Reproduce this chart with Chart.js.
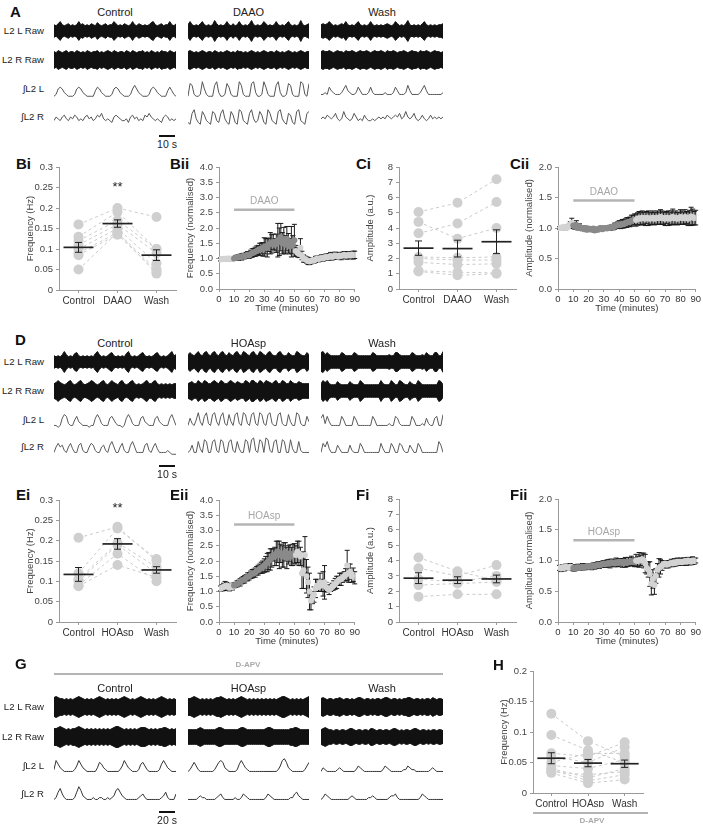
<!DOCTYPE html>
<html>
<head>
<meta charset="utf-8">
<script src="https://cdn.jsdelivr.net/npm/chart.js@4.4.1/dist/chart.umd.min.js"></script>
<style>
  body { margin: 0; background: #fff; }
  #fig { position: relative; width: 703px; height: 826px; overflow: hidden; background: #fff;
         font-family: "Liberation Sans", Arial, sans-serif; color: #222; }
  #fig canvas { position: absolute; }
  .t { position: absolute; white-space: nowrap; line-height: 1; }
  .p { font-weight: bold; font-size: 15px; color: #111; }
  .row { font-size: 9.6px; color: #222; }
  .col { font-size: 11px; color: #222; }
  .sb { font-size: 10.5px; color: #222; }
  .apv { font-size: 8px; font-weight: bold; color: #aaa; }
  .bar { position: absolute; }
</style>
</head>
<body>
<div id="fig"></div>
<script>
// ---- summary panels (each animal: [Control, drug, Wash]) ----
const catsDAAO = ["Control", "DAAO", "Wash"];
const catsHOAsp = ["Control", "HOAsp", "Wash"];

const biAnimals = [[0.16, 0.20, 0.178], [0.13, 0.19, 0.10], [0.11, 0.16, 0.09], [0.10, 0.15, 0.065],
                   [0.09, 0.14, 0.05], [0.085, 0.135, 0.045], [0.05, 0.14, 0.04], [0.12, 0.17, 0.10]];
const biMean = [0.104, 0.162, 0.085];
const biSem = [0.012, 0.009, 0.013];

const ciAnimals = [[5.05, 5.65, 7.2], [4.4, 3.3, 4.0], [3.65, 4.3, 5.7], [2.1, 2.05, 2.1],
                   [2.0, 1.9, 1.9], [1.75, 1.6, 1.65], [1.2, 1.1, 1.05], [1.15, 0.9, 1.0]];
const ciMean = [2.68, 2.65, 3.1];
const ciSem = [0.47, 0.55, 0.78];

const eiAnimals = [[0.207, 0.234, 0.15], [0.12, 0.23, 0.155], [0.105, 0.195, 0.135],
                   [0.10, 0.19, 0.12], [0.09, 0.168, 0.10], [0.088, 0.14, 0.11]];
const eiMean = [0.117, 0.192, 0.128];
const eiSem = [0.017, 0.013, 0.008];

const fiAnimals = [[4.2, 3.3, 2.7], [3.5, 3.0, 3.7], [2.8, 2.6, 3.0], [2.4, 2.5, 2.6], [1.65, 1.8, 1.8]];
const fiMean = [2.85, 2.72, 2.8];
const fiSem = [0.35, 0.22, 0.25];

const hAnimals = [[0.13, 0.085, 0.06], [0.095, 0.07, 0.05], [0.065, 0.06, 0.083], [0.06, 0.05, 0.075],
                  [0.05, 0.065, 0.065], [0.045, 0.04, 0.055], [0.04, 0.025, 0.04], [0.038, 0.02, 0.03],
                  [0.035, 0.03, 0.035], [0.033, 0.016, 0.022]];
const hMean = [0.057, 0.049, 0.048];
const hSem = [0.009, 0.006, 0.006];

// ---- time courses, one value per minute (1..90) ----
const biiMean = [0.97,0.98,0.99,0.98,1.0,0.99,1.0,0.98,1.0,1.0,
  1.02,1.04,1.03,1.06,1.05,1.08,1.07,1.1,1.12,1.1,
  1.15,1.18,1.2,1.22,1.25,1.28,1.3,1.33,1.3,1.38,
  1.4,1.35,1.45,1.5,1.48,1.55,1.45,1.5,1.6,1.55,
  1.7,1.5,1.6,1.45,1.65,1.5,1.4,1.55,1.45,1.6,
  1.25,1.2,1.15,1.35,1.1,1.0,0.98,0.95,0.92,0.9,
  0.92,0.95,0.93,0.97,1.0,0.98,1.0,1.02,1.0,1.03,
  1.05,1.03,1.06,1.08,1.05,1.07,1.1,1.08,1.06,1.1,
  1.08,1.1,1.12,1.09,1.1,1.12,1.1,1.13,1.11,1.12];
const biiErr = [0.05,0.04,0.05,0.06,0.05,0.04,0.05,0.06,0.05,0.06,
  0.08,0.07,0.09,0.08,0.1,0.09,0.08,0.1,0.11,0.1,
  0.12,0.14,0.13,0.15,0.16,0.15,0.2,0.18,0.22,0.3,
  0.25,0.3,0.22,0.35,0.3,0.25,0.2,0.3,0.55,0.45,
  0.45,0.35,0.42,0.3,0.4,0.32,0.25,0.5,0.3,0.52,
  0.18,0.15,0.12,0.3,0.14,0.12,0.1,0.1,0.12,0.1,
  0.1,0.08,0.09,0.1,0.08,0.09,0.08,0.1,0.09,0.08,
  0.1,0.09,0.1,0.12,0.1,0.09,0.11,0.1,0.09,0.1,
  0.12,0.1,0.11,0.1,0.12,0.1,0.11,0.1,0.13,0.12];

const ciiMean = [1.0,1.01,1.0,1.02,1.0,1.01,1.03,1.05,1.08,1.04,
  1.02,1.05,1.0,1.03,0.99,1.0,0.98,1.0,0.97,0.99,
  0.98,0.97,0.99,0.96,0.98,0.97,0.99,1.0,0.98,0.99,
  1.0,0.99,1.01,1.0,1.02,1.01,1.03,1.04,1.05,1.06,
  1.05,1.07,1.06,1.08,1.09,1.1,1.1,1.12,1.13,1.14,
  1.13,1.15,1.16,1.15,1.17,1.16,1.15,1.17,1.16,1.15,
  1.16,1.17,1.15,1.16,1.17,1.16,1.18,1.17,1.16,1.15,
  1.17,1.16,1.15,1.17,1.18,1.16,1.17,1.15,1.16,1.18,
  1.17,1.16,1.18,1.17,1.15,1.17,1.19,1.18,1.16,1.17];
const ciiErr = [0.02,0.02,0.03,0.02,0.03,0.02,0.03,0.05,0.08,0.05,
  0.04,0.07,0.03,0.04,0.03,0.03,0.02,0.03,0.03,0.02,
  0.03,0.02,0.03,0.03,0.02,0.03,0.02,0.03,0.02,0.03,
  0.03,0.02,0.03,0.04,0.03,0.04,0.05,0.04,0.05,0.06,
  0.06,0.07,0.06,0.07,0.08,0.07,0.08,0.09,0.08,0.09,
  0.1,0.1,0.11,0.1,0.11,0.1,0.11,0.1,0.12,0.1,
  0.1,0.11,0.1,0.1,0.11,0.1,0.12,0.11,0.1,0.11,
  0.1,0.12,0.1,0.11,0.13,0.1,0.11,0.1,0.1,0.12,
  0.11,0.1,0.12,0.1,0.11,0.12,0.15,0.13,0.11,0.12];

const eiiMean = [1.1,1.12,1.15,1.18,1.2,1.15,1.12,1.18,1.15,1.2,
  1.22,1.25,1.28,1.3,1.35,1.38,1.4,1.45,1.48,1.5,
  1.55,1.58,1.6,1.62,1.68,1.7,1.75,1.78,1.8,1.85,
  1.9,1.95,2.0,2.05,2.1,2.2,2.15,2.25,2.3,2.2,
  2.25,2.15,2.2,2.3,2.1,2.2,2.25,2.15,2.2,2.25,
  2.2,2.3,2.25,2.15,1.6,1.7,2.2,1.5,1.3,1.0,
  0.7,0.8,0.9,1.1,1.2,1.15,1.3,1.2,1.25,1.3,
  1.15,1.1,1.05,1.1,1.15,1.2,1.25,1.3,1.35,1.4,
  1.4,1.45,1.5,1.55,1.85,1.6,1.65,1.5,1.55,1.45];
const eiiErr = [0.08,0.1,0.12,0.15,0.1,0.08,0.1,0.09,0.1,0.08,
  0.08,0.1,0.09,0.12,0.1,0.11,0.12,0.1,0.13,0.12,
  0.12,0.14,0.13,0.15,0.14,0.16,0.15,0.18,0.2,0.22,
  0.25,0.3,0.28,0.35,0.3,0.2,0.3,0.4,0.35,0.45,
  0.3,0.35,0.4,0.3,0.35,0.3,0.28,0.3,0.35,0.32,
  0.3,0.35,0.4,0.3,0.5,0.6,0.6,0.55,0.5,0.6,
  0.3,0.2,0.25,0.3,0.2,0.15,0.3,0.2,0.4,0.55,
  0.15,0.12,0.15,0.1,0.12,0.15,0.18,0.2,0.15,0.2,
  0.2,0.15,0.15,0.2,0.5,0.3,0.25,0.2,0.22,0.2];

const fiiMean = [0.88,0.87,0.89,0.88,0.9,0.89,0.88,0.9,0.89,0.88,
  0.87,0.88,0.89,0.88,0.89,0.9,0.89,0.9,0.91,0.9,
  0.91,0.9,0.92,0.91,0.92,0.93,0.92,0.93,0.94,0.95,
  0.94,0.95,0.96,0.95,0.97,0.96,0.95,0.97,0.96,0.98,
  0.97,0.96,0.98,0.97,0.96,0.98,0.97,0.99,0.98,0.97,
  1.0,0.99,1.01,1.0,1.02,1.0,0.95,0.88,0.85,0.78,
  0.62,0.7,0.6,0.75,0.85,0.88,0.9,0.92,0.94,0.95,
  0.93,0.94,0.95,0.96,0.95,0.97,0.96,0.98,0.97,0.98,
  0.97,0.98,0.99,0.98,1.0,0.99,0.98,1.0,0.99,1.0];
const fiiErr = [0.04,0.05,0.04,0.05,0.04,0.05,0.04,0.05,0.04,0.05,
  0.04,0.04,0.05,0.04,0.04,0.05,0.04,0.05,0.04,0.04,
  0.04,0.05,0.04,0.05,0.04,0.05,0.05,0.04,0.05,0.05,
  0.05,0.06,0.05,0.07,0.05,0.06,0.05,0.07,0.06,0.05,
  0.06,0.07,0.05,0.08,0.06,0.07,0.05,0.08,0.06,0.07,
  0.1,0.08,0.12,0.09,0.1,0.12,0.15,0.1,0.12,0.2,
  0.18,0.15,0.15,0.12,0.1,0.15,0.12,0.08,0.06,0.05,
  0.05,0.06,0.05,0.06,0.05,0.06,0.05,0.06,0.05,0.06,
  0.05,0.06,0.05,0.06,0.05,0.06,0.05,0.06,0.05,0.04];

const tsMinutes = Array.from({ length: 90 }, (_, i) => i + 1);

// ---- recordings: raw envelope amplitude and integrated activity ----
const aCtrlRawL = [6,5,7,9,6,5,6,7,5,6,5,6,9,6,7,5,6,5,7,6,5,8,6,5,6,7,5,6,6,9,7,5,6,5,7,6,5,6,9,6,5,7,6,5,6,5,6,8,9,6,5,6,7,5,6,6,9,6,5,7];
const aCtrlRawR = [8,7,9,8,7,8,9,7,8,8,7,9,8,7,8,7,9,8,7,8,8,9,7,8,7,8,9,8,7,9,8,7,8,8,7,9,8,7,9,8,7,8,8,9,7,8,7,9,8,7,8,7,9,8,8,7,9,8,7,8];
const aDaaoRawL = [6,9,6,5,6,5,7,9,6,5,6,5,6,10,7,5,6,5,6,9,6,5,7,5,6,9,6,5,6,5,7,10,6,5,6,5,6,9,7,5,6,5,6,9,6,5,6,5,7,9,6,5,6,5,6,10,6,5,6,7];
const aDaaoRawR = [8,9,8,7,8,7,8,9,8,7,8,8,7,9,8,7,8,7,8,9,8,7,8,7,9,8,8,7,8,7,8,9,8,7,8,7,8,9,8,7,8,8,7,9,8,7,8,7,8,9,8,7,8,7,8,9,8,7,8,8];
const aWashRawL = [6,7,6,7,9,7,5,6,5,6,7,6,9,6,5,6,5,7,9,6,5,6,5,6,9,6,5,6,5,6,5,6,7,6,5,6,9,7,5,6,5,7,10,6,5,6,5,6,5,7,9,6,5,6,5,6,5,6,6,7];
const aWashRawR = [8,9,8,8,9,8,7,8,9,8,8,7,9,8,8,9,8,7,8,9,8,8,9,8,7,8,9,8,8,9,8,7,9,8,8,9,8,7,8,8,9,8,7,8,9,8,8,7,9,8,8,9,8,7,8,9,8,8,7,8];
const aCtrlIntL = [1,2,5,6,5,3,2,1,1,1,2,5,6,5,3,2,1,1,1,1,4,6,5,3,2,1,1,1,2,5,6,5,3,2,1,1,1,2,5,7,5,3,2,1,1,1,2,5,6,5,3,2,1,1,1,4,6,4,2,1];
const aCtrlIntR = [3,5,4,3,5,6,4,3,5,4,6,5,3,4,3,5,6,4,5,3,4,6,5,7,4,3,4,3,2,5,6,5,4,3,3,4,2,5,6,4,5,3,4,3,6,5,7,5,4,3,4,3,2,5,6,5,3,4,3,4];
const aDaaoIntL = [1,8,7,2,1,1,2,9,5,2,1,1,1,7,9,3,1,1,2,8,6,2,1,1,1,9,7,2,1,1,1,8,9,3,1,1,2,9,6,2,1,1,1,7,9,3,1,1,2,8,7,2,1,1,1,9,8,2,1,8];
const aDaaoIntR = [2,1,7,9,4,2,1,8,6,3,2,1,8,7,3,2,7,9,4,2,1,8,6,2,1,9,8,3,2,1,7,9,4,2,3,8,6,2,1,9,7,3,2,1,8,9,4,2,1,7,6,2,1,8,9,3,2,1,7,8];
const aWashIntL = [2,2,3,2,6,4,3,2,2,2,3,5,7,4,3,2,2,3,6,4,2,2,2,3,6,3,2,2,2,2,2,3,2,2,2,3,6,4,2,2,2,3,7,4,2,2,2,2,3,5,7,4,2,2,2,2,2,2,2,3];
const aWashIntR = [4,5,4,6,5,4,5,7,4,3,4,8,5,4,3,4,7,5,3,4,3,6,4,3,3,4,3,4,5,4,5,4,6,5,4,5,6,5,7,4,5,8,5,4,5,7,4,3,4,6,4,3,4,6,4,5,4,5,4,5];

const dCtrlRawL = [6,5,6,5,7,10,7,5,6,5,8,9,6,5,6,5,6,5,6,5,8,10,7,5,6,5,6,8,9,6,5,6,5,6,5,8,10,6,5,6,5,6,8,9,6,5,6,5,6,8,9,6,5,6,5,6,8,10,6,7];
const dCtrlRawR = [7,8,10,8,7,6,7,9,10,7,6,7,9,10,7,6,7,8,10,9,7,6,7,9,10,7,6,8,10,8,7,6,9,10,7,6,7,9,10,7,6,7,6,7,9,10,7,7,9,10,7,6,7,6,7,6,7,6,7,7];
const dHoaRawL = [7,9,7,6,8,10,7,6,9,10,7,6,9,10,7,6,9,10,7,6,9,7,6,9,10,7,6,10,9,7,6,9,10,7,6,10,9,7,6,9,10,7,6,6,9,10,7,6,6,9,7,6,6,10,9,7,6,6,9,7];
const dHoaRawR = [7,8,9,7,7,10,8,7,10,9,7,7,9,10,8,7,10,9,7,7,9,10,8,7,9,8,7,7,10,9,7,10,10,8,7,10,9,7,10,9,8,7,9,10,7,7,10,9,7,7,10,8,7,7,9,8,7,7,7,7];
const dWashRawL = [9,10,7,9,7,6,6,6,6,6,9,8,6,6,6,6,9,8,6,6,6,6,6,6,6,9,8,6,6,6,6,6,6,7,6,6,9,9,7,6,6,6,6,6,9,8,6,6,6,7,6,9,7,6,6,9,9,6,6,10];
const dWashRawR = [7,10,8,10,7,6,6,6,9,7,6,6,6,6,9,7,6,6,6,10,8,6,6,6,6,6,6,6,6,10,7,6,6,6,10,8,6,6,10,9,7,6,6,9,7,6,6,10,8,6,6,6,6,6,6,6,6,10,9,6];
const dCtrlIntL = [2,2,1,2,6,8,7,3,2,2,5,7,4,3,2,2,2,1,2,2,6,8,6,3,2,2,2,6,7,5,3,2,2,1,2,6,8,6,3,2,2,2,6,7,4,3,2,2,2,6,7,4,3,2,2,2,6,8,5,2];
const dCtrlIntR = [2,5,7,5,6,3,2,5,7,4,2,2,6,7,3,2,2,5,7,6,3,2,2,5,6,3,2,6,8,5,2,2,5,7,3,2,2,6,8,5,2,2,2,2,6,7,3,2,5,7,4,2,2,2,2,3,2,1,1,1];
const dHoaIntL = [2,6,3,2,5,9,4,2,7,9,3,2,8,9,4,2,7,9,3,2,8,4,2,8,9,3,2,9,8,3,2,8,9,3,2,9,8,3,2,8,9,3,2,2,8,9,3,2,2,8,4,2,2,9,8,3,2,2,7,4];
const dHoaIntR = [2,3,6,2,2,8,4,2,9,8,2,2,8,9,3,2,9,8,2,2,8,9,3,2,8,4,2,2,9,8,2,9,10,3,2,9,8,2,10,9,3,2,8,9,2,2,9,8,2,2,9,4,2,2,8,3,2,2,2,2];
const dWashIntL = [6,8,3,7,4,2,2,2,2,2,7,5,2,2,2,2,7,5,2,2,2,2,2,2,2,7,5,2,2,2,2,2,2,3,2,2,7,6,3,2,2,2,2,2,7,5,2,2,2,3,2,6,3,2,2,6,7,2,2,8];
const dWashIntR = [2,7,5,8,4,2,2,2,6,4,2,2,2,2,6,3,2,2,2,7,5,2,2,2,2,2,2,2,2,7,4,2,2,2,7,5,2,2,7,6,3,2,2,6,4,2,2,7,5,2,2,2,2,2,2,2,2,8,6,2];

const gCtrlRawL = [9,10,9,8,8,7,8,7,8,7,8,9,10,9,8,7,8,7,8,7,8,9,10,9,8,7,8,7,8,7,8,7,8,9,10,9,8,7,8,7,8,9,10,9,8,7,8,7,8,7,8,9,10,9,8,7,8,7,8,7];
const gCtrlRawR = [8,8,9,10,9,8,7,8,7,8,8,9,10,9,8,7,8,7,8,7,8,7,8,7,8,7,8,7,8,9,10,10,9,8,7,8,7,8,7,8,7,8,9,9,9,8,7,8,7,8,7,8,8,9,9,8,7,8,7,8];
const gHoaRawL = [8,8,9,10,9,8,7,8,7,8,7,8,7,8,9,9,10,9,8,7,8,7,8,7,8,9,10,9,8,7,8,7,8,7,8,7,8,7,8,7,8,7,8,7,8,9,10,10,9,8,7,8,7,8,7,8,7,8,9,10];
const gHoaRawR = [7,7,7,7,7,8,9,8,7,7,7,7,7,7,8,9,9,8,7,7,7,7,7,7,7,8,9,9,8,7,7,7,7,7,7,7,7,7,8,9,9,8,7,7,7,7,7,7,7,7,8,8,9,9,8,7,7,7,7,7];
const gWashRawL = [8,9,8,7,8,8,7,8,8,9,8,7,8,8,7,8,7,8,9,9,8,7,8,8,7,8,7,8,8,7,8,9,9,8,7,8,8,7,8,7,8,8,9,9,8,7,8,8,7,8,7,8,8,7,9,8,7,8,8,7];
const gWashRawR = [7,8,9,8,7,7,6,7,7,6,7,7,6,7,8,8,7,6,7,7,6,7,7,6,8,8,7,6,7,7,6,7,7,6,7,8,8,7,6,7,6,7,7,6,7,8,8,7,6,7,7,6,7,6,7,7,6,7,7,6];
const gCtrlIntL = [3,8,6,4,3,2,2,2,2,2,3,5,8,6,4,3,2,2,2,2,2,4,7,6,4,3,2,2,2,2,2,2,3,5,8,6,4,3,2,2,2,3,6,7,5,3,2,2,2,2,2,3,6,8,6,4,3,2,2,2];
const gCtrlIntR = [2,3,6,8,5,3,2,2,2,2,3,6,9,7,4,3,2,2,2,3,2,2,3,3,2,2,3,2,3,4,7,8,6,4,3,2,2,2,2,2,2,3,4,5,3,2,2,2,2,2,2,2,3,4,6,3,2,2,2,5];
const gHoaIntL = [2,3,5,7,5,3,2,2,2,2,2,2,2,3,5,7,8,7,4,3,2,2,2,2,3,6,8,6,4,3,2,2,2,2,2,2,2,2,2,2,2,2,2,2,3,5,8,9,7,4,3,2,2,2,2,2,2,3,5,7];
const gHoaIntR = [2,2,2,2,2,3,4,3,3,2,2,2,2,2,3,4,5,3,2,2,2,2,2,3,2,2,3,5,4,3,2,2,2,2,2,2,2,2,3,5,4,3,2,2,2,2,2,2,2,2,3,3,5,6,4,3,2,2,2,2];
const gWashIntL = [2,4,3,2,2,2,2,2,3,4,3,2,2,2,2,2,2,3,5,4,3,2,2,2,2,2,2,2,2,2,3,5,4,3,2,2,2,2,2,2,3,3,5,4,3,3,2,2,2,2,2,2,2,3,4,3,2,2,2,2];
const gWashIntR = [2,3,5,4,3,2,2,2,2,2,2,2,2,2,3,4,3,2,2,2,2,2,2,3,3,4,3,2,2,2,2,2,2,3,4,4,5,3,2,2,2,2,2,2,2,2,2,2,3,5,4,3,2,2,2,2,2,2,2,2];

// ---------------------------------------------------------------
const FONT = '"Liberation Sans", Arial, sans-serif';
Chart.defaults.font.family = FONT;
Chart.defaults.color = "#444";
Chart.defaults.animation = false;
Chart.defaults.responsive = false;
Chart.defaults.plugins.legend.display = false;
Chart.defaults.plugins.tooltip.enabled = false;

const fig = document.getElementById("fig");

function canvasAt(x, y, w, h) {
    const c = document.createElement("canvas");
    c.width = w;
    c.height = h;
    c.style.left = x + "px";
    c.style.top = y + "px";
    c.style.width = w + "px";
    c.style.height = h + "px";
    fig.appendChild(c);
    return c;
}

// anchor: "l" left, "c" centre, "r" right; y is the vertical centre
function put(str, x, y, cls, anchor) {
    const d = document.createElement("div");
    d.className = "t " + cls;
    d.textContent = str;
    d.style.left = x + "px";
    d.style.top = y + "px";
    const tx = anchor === "c" ? "-50%" : anchor === "r" ? "-100%" : "0";
    d.style.transform = "translate(" + tx + ",-50%)";
    fig.appendChild(d);
}

function hbar(x0, x1, y, h, color) {
    const d = document.createElement("div");
    d.className = "bar";
    d.style.left = x0 + "px";
    d.style.top = y - h / 2 + "px";
    d.style.width = x1 - x0 + "px";
    d.style.height = h + "px";
    d.style.background = color;
    fig.appendChild(d);
}

// mean line + SEM whiskers for the category panels
const meanSemPlugin = {
    id: "meanSem",
    afterDatasetsDraw(chart, args, o) {
        const { ctx, scales: { x, y } } = chart;
        ctx.save();
        ctx.strokeStyle = "#222";
        o.mean.forEach((m, i) => {
            const px = x.getPixelForValue(i);
            const py = y.getPixelForValue(m);
            const top = y.getPixelForValue(m + o.sem[i]);
            const bot = y.getPixelForValue(m - o.sem[i]);
            ctx.lineWidth = 1.7;
            ctx.beginPath();
            ctx.moveTo(px - o.half, py);
            ctx.lineTo(px + o.half, py);
            ctx.stroke();
            ctx.lineWidth = 1;
            ctx.beginPath();
            ctx.moveTo(px, top); ctx.lineTo(px, bot);
            ctx.moveTo(px - 3.5, top); ctx.lineTo(px + 3.5, top);
            ctx.moveTo(px - 3.5, bot); ctx.lineTo(px + 3.5, bot);
            ctx.stroke();
        });
        if (o.stars) {
            ctx.fillStyle = "#222";
            ctx.font = "13px " + FONT;
            ctx.textAlign = "center";
            ctx.textBaseline = "middle";
            ctx.fillText("**", x.getPixelForValue(o.stars.at), y.getPixelForValue(o.stars.y));
        }
        ctx.restore();
    },
};

// black SEM whiskers under the time-course points
const errPlugin = {
    id: "errBars",
    beforeDatasetsDraw(chart, args, o) {
        const { ctx, scales: { x, y } } = chart;
        ctx.save();
        ctx.strokeStyle = "#1a1a1a";
        ctx.lineWidth = 1;
        ctx.beginPath();
        chart.data.datasets[0].data.forEach((p, i) => {
            const px = x.getPixelForValue(p.x);
            const t = y.getPixelForValue(p.y + o.err[i]);
            const b = y.getPixelForValue(p.y - o.err[i]);
            ctx.moveTo(px, t); ctx.lineTo(px, b);
            ctx.moveTo(px - 2.5, t); ctx.lineTo(px + 2.5, t);
            ctx.moveTo(px - 2.5, b); ctx.lineTo(px + 2.5, b);
        });
        ctx.stroke();
        ctx.restore();
    },
};

// grey bar marking drug application
const drugPlugin = {
    id: "drug",
    afterDatasetsDraw(chart, args, o) {
        const { ctx, scales: { x, y } } = chart;
        const x0 = x.getPixelForValue(o.from);
        const x1 = x.getPixelForValue(o.to);
        const py = y.getPixelForValue(o.level);
        ctx.save();
        ctx.strokeStyle = "#b4b4b4";
        ctx.lineWidth = 2.5;
        ctx.beginPath();
        ctx.moveTo(x0, py);
        ctx.lineTo(x1, py);
        ctx.stroke();
        ctx.fillStyle = "#a6a6a6";
        ctx.font = "10px " + FONT;
        ctx.textAlign = "center";
        ctx.textBaseline = "bottom";
        ctx.fillText(o.label, (x0 + x1) / 2, py - 3);
        ctx.restore();
    },
};

const axisGrid = { drawOnChartArea: false, tickLength: 3, color: "#9a9a9a" };
const axisBorder = { color: "#9a9a9a" };

function yScale(max, step, fmt, title, yw) {
    return {
        min: 0, max: max,
        ticks: { stepSize: step, callback: fmt, color: "#444", font: { size: 9.5 }, padding: 3 },
        grid: axisGrid, border: axisBorder,
        title: { display: true, text: title, color: "#444", font: { size: 9.5 }, padding: { top: 5, bottom: 2 } },
        afterFit: (s) => { s.width = yw; },
    };
}

function catPanel(rect, cats, animals, mean, sem, yMax, yStep, fmt, yTitle, half, stars) {
    const [L, T, R, B] = rect;
    const yw = 39, xh = 14, pt = 9, pr = 4;
    const c = canvasAt(L - yw, T - pt, R + pr - (L - yw), B + xh - (T - pt));
    new Chart(c, {
        type: "line",
        data: {
            labels: cats,
            datasets: animals.map((a) => ({
                data: a,
                borderColor: "#cacaca",
                borderDash: [3, 3],
                borderWidth: 1,
                pointRadius: 5,
                pointBackgroundColor: "#cfcfcf",
                pointBorderWidth: 0,
                fill: false,
                tension: 0,
            })),
        },
        options: {
            layout: { padding: { top: pt, right: pr, left: 0, bottom: 0 } },
            scales: {
                x: {
                    offset: true,
                    grid: Object.assign({ offset: false }, axisGrid),
                    border: axisBorder,
                    ticks: { color: "#333", font: { size: 10 }, padding: 2, autoSkip: false, maxRotation: 0, minRotation: 0 },
                    afterFit: (s) => { s.height = xh; },
                },
                y: yScale(yMax, yStep, fmt, yTitle, yw),
            },
            plugins: { meanSem: { mean, sem, half, stars } },
        },
        plugins: [meanSemPlugin],
    });
}

function timePanel(rect, mean, err, yMax, yTitle, drug) {
    const [L, T, R, B] = rect;
    const yw = 39, xh = 25, pt = 9, pr = 5;
    const c = canvasAt(L - yw, T - pt, R + pr - (L - yw), B + xh - (T - pt));
    new Chart(c, {
        type: "scatter",
        data: {
            datasets: [{
                data: mean.map((v, i) => ({ x: tsMinutes[i], y: v })),
                pointRadius: 3,
                pointBorderWidth: 0,
                pointBackgroundColor: tsMinutes.map((m) => (m >= drug.from && m <= drug.to ? "#8a8a8a" : "#d3d3d3")),
            }],
        },
        options: {
            layout: { padding: { top: pt, right: pr, left: 0, bottom: 0 } },
            scales: {
                x: {
                    type: "linear", min: 0, max: 90,
                    ticks: { stepSize: 10, color: "#333", font: { size: 9.5 }, padding: 2, autoSkip: false, maxRotation: 0, minRotation: 0 },
                    grid: axisGrid, border: axisBorder,
                    title: { display: true, text: "Time (minutes)", color: "#333", font: { size: 9.5 }, padding: { top: 0, bottom: 0 } },
                    afterFit: (s) => { s.height = xh; },
                },
                y: yScale(yMax, 0.5, (v) => v.toFixed(1), yTitle, yw),
            },
            plugins: { errBars: { err }, drug },
        },
        plugins: [errPlugin, drugPlugin],
    });
}

function trace(data, raw, x0, x1, yc, color) {
    const h = raw ? 22 : 20;
    const c = canvasAt(x0, yc - h / 2, x1 - x0, h);
    const labels = data.map((_, i) => i);
    const datasets = raw
        ? [
            { data: data, borderColor: "#111", borderWidth: 1, pointRadius: 0, fill: false },
            { data: data.map((v) => -v), borderColor: "#111", backgroundColor: "#111", borderWidth: 1, pointRadius: 0, fill: "-1" },
        ]
        : [{ data: data, borderColor: color, borderWidth: 1, pointRadius: 0, fill: false }];
    new Chart(c, {
        type: "line",
        data: { labels, datasets },
        options: {
            layout: { padding: 0 },
            elements: { line: { tension: 0 } },
            scales: {
                x: { display: false },
                y: { display: false, min: raw ? -10.5 : -0.5, max: raw ? 10.5 : 10.5 },
            },
        },
    });
}

const traceCols = [[54, 176], [188, 309], [321, 443]];
const rowNames = ["L2 L Raw", "L2 R Raw", "\u222BL2 L", "\u222BL2 R"];

function traceBlock(rows, titleY, titles, sets, intColor) {
    titles.forEach((t, j) => put(t, (traceCols[j][0] + traceCols[j][1]) / 2, titleY, "col", "c"));
    rowNames.forEach((n, r) => put(n, 44, rows[r], "row", "r"));
    sets.forEach((rowSets, r) => {
        rowSets.forEach((d, j) => trace(d, r < 2, traceCols[j][0], traceCols[j][1], rows[r], intColor));
    });
}

// ---- A ----
put("A", 10, 11, "p", "l");
traceBlock([31, 60, 89, 117], 12, catsDAAO, [
    [aCtrlRawL, aDaaoRawL, aWashRawL],
    [aCtrlRawR, aDaaoRawR, aWashRawR],
    [aCtrlIntL, aDaaoIntL, aWashIntL],
    [aCtrlIntR, aDaaoIntR, aWashIntR],
], "#555");
hbar(159, 175, 136, 1.5, "#111");
put("10 s", 167, 144, "sb", "c");

// ---- B / C ----
put("Bi", 16, 163, "p", "l");
put("Bii", 170, 163, "p", "l");
put("Ci", 356, 163, "p", "l");
put("Cii", 510, 163, "p", "l");
const fmt2 = (v) => String(+v.toFixed(2));
const fmt0 = (v) => String(+v.toFixed(0));
catPanel([59, 167, 177, 290], catsDAAO, biAnimals, biMean, biSem, 0.3, 0.05, fmt2, "Frequency (Hz)", 15, { at: 1, y: 0.25 });
timePanel([219, 167, 357, 289], biiMean, biiErr, 4, "Frequency (normalised)", { from: 10, to: 50, level: 2.6, label: "DAAO" });
catPanel([399, 167, 517, 289], catsDAAO, ciAnimals, ciMean, ciSem, 8, 1, fmt0, "Amplitude (a.u.)", 15, null);
timePanel([558, 167, 698, 289], ciiMean, ciiErr, 2, "Amplitude (normalised)", { from: 10, to: 50, level: 1.45, label: "DAAO" });

// ---- D ----
put("D", 15, 339, "p", "l");
traceBlock([362, 391, 420, 447], 343, catsHOAsp, [
    [dCtrlRawL, dHoaRawL, dWashRawL],
    [dCtrlRawR, dHoaRawR, dWashRawR],
    [dCtrlIntL, dHoaIntL, dWashIntL],
    [dCtrlIntR, dHoaIntR, dWashIntR],
], "#5a5a5a");
hbar(159, 175, 466, 1.5, "#111");
put("10 s", 167, 474, "sb", "c");

// ---- E / F ----
put("Ei", 16, 494, "p", "l");
put("Eii", 170, 494, "p", "l");
put("Fi", 356, 494, "p", "l");
put("Fii", 510, 494, "p", "l");
catPanel([59, 500, 177, 622], catsHOAsp, eiAnimals, eiMean, eiSem, 0.3, 0.05, fmt2, "Frequency (Hz)", 15, { at: 1, y: 0.28 });
timePanel([219, 500, 357, 622], eiiMean, eiiErr, 4, "Frequency (normalised)", { from: 10, to: 50, level: 3.2, label: "HOAsp" });
catPanel([399, 499, 517, 622], catsHOAsp, fiAnimals, fiMean, fiSem, 8, 1, fmt0, "Amplitude (a.u.)", 15, null);
timePanel([558, 499, 698, 622], fiiMean, fiiErr, 2, "Amplitude (normalised)", { from: 10, to: 50, level: 1.33, label: "HOAsp" });

// ---- G ----
put("G", 15, 663, "p", "l");
put("D-APV", 248, 665, "apv", "c");
hbar(54, 443, 674, 2, "#b4b4b4");
traceBlock([707, 737, 766, 794], 688, catsHOAsp, [
    [gCtrlRawL, gHoaRawL, gWashRawL],
    [gCtrlRawR, gHoaRawR, gWashRawR],
    [gCtrlIntL, gHoaIntL, gWashIntL],
    [gCtrlIntR, gHoaIntR, gWashIntR],
], "#333");
hbar(159, 175, 812, 1.5, "#111");
put("20 s", 167, 820, "sb", "c");

// ---- H ----
put("H", 493, 664, "p", "l");
catPanel([533, 671, 644, 793], catsHOAsp, hAnimals, hMean, hSem, 0.2, 0.05, fmt2, "Frequency (Hz)", 14, null);
hbar(533, 648, 813, 2, "#b4b4b4");
put("D-APV", 592, 821, "apv", "c");
</script>
</body>
</html>
